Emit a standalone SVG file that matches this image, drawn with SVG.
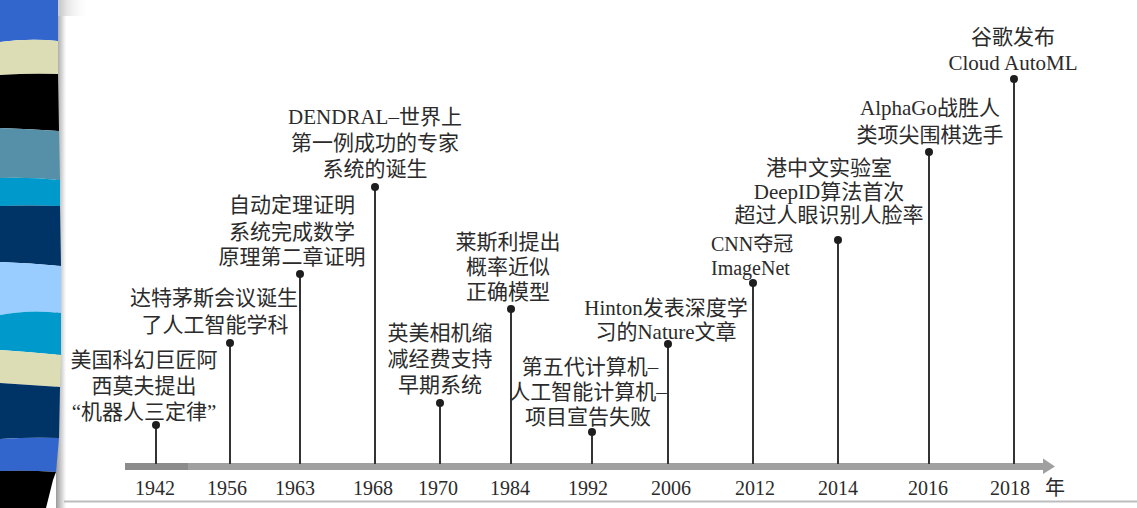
<svg xmlns="http://www.w3.org/2000/svg" width="1137" height="508" viewBox="0 0 1137 508">
<style>
  .lbl{font-family:"Liberation Serif","Noto Sans CJK SC",serif;font-size:21px;fill:#2b2b2b;text-anchor:middle}
  .lft{text-anchor:start;font-size:20px}
  .yr{font-family:"Liberation Serif","Noto Sans CJK SC",serif;font-size:20px;fill:#2b2b2b;text-anchor:middle}
  .tick{stroke:#333;stroke-width:2;fill:none}
  .dot{fill:#1e1e1e}
</style>
<defs>
  <linearGradient id="shadow" x1="0" y1="0" x2="1" y2="0">
    <stop offset="0" stop-color="#9a9a9a"/>
    <stop offset="1" stop-color="#ffffff"/>
  </linearGradient>
  <linearGradient id="topfade" x1="0" y1="0" x2="1" y2="0">
    <stop offset="0" stop-color="#c8c8c8"/>
    <stop offset="1" stop-color="#ffffff" stop-opacity="0"/>
  </linearGradient>
</defs>
<rect width="1137" height="508" fill="#ffffff"/>
<!-- left decorative stripe bar -->
<g id="stripes">
  <rect x="56" y="0" width="10" height="508" fill="url(#shadow)"/>
  <rect x="56" y="0" width="34" height="16" fill="url(#topfade)"/>
  <path d="M0,0 H58 V41 Q30,38 0,42 Z" fill="#3366cc"/>
  <path d="M0,42 Q30,38 58,41 V74 Q30,73 0,75 Z" fill="#ddddb5"/>
  <path d="M0,75 Q30,73 58,74 L59,131 Q30,129 0,128 Z" fill="#000000"/>
  <path d="M0,128 Q30,129 59,131 L60,180 Q30,177 0,178 Z" fill="#5590a8"/>
  <path d="M0,178 Q30,177 60,180 L60,206 Q30,205 0,206 Z" fill="#0099cc"/>
  <path d="M0,206 Q30,205 60,206 L61,266 Q30,263 0,262 Z" fill="#003366"/>
  <path d="M0,262 Q30,263 61,266 L61,313 Q30,309 0,315 Z" fill="#99ccff"/>
  <path d="M0,315 Q30,309 61,313 L61,355 Q30,352 0,350 Z" fill="#0099cc"/>
  <path d="M0,350 Q30,352 61,355 L60,387 Q30,385 0,383 Z" fill="#ddddb5"/>
  <path d="M0,383 Q30,385 60,387 L59,438 Q30,437 0,439 Z" fill="#003366"/>
  <path d="M0,439 Q30,437 59,438 L56,472 Q30,470 0,471 Z" fill="#3366cc"/>
  <path d="M0,471 Q30,470 56,472 L53,480 L46,508 H0 Z" fill="#000000"/>
</g>
<line x1="64" y1="501.5" x2="1137" y2="501.5" stroke="#bdbdbd" stroke-width="2"/>
<!-- axis -->
<g id="axis">
  <rect x="125" y="463" width="921" height="7" fill="#a0a0a0"/>
  <rect x="125" y="463" width="63" height="7" fill="#8c8c8c"/>
  <polygon points="1043,458.5 1055,466.5 1043,474" fill="#a0a0a0"/>
  <text class="yr" x="155" y="495">1942</text>
  <text class="yr" x="227" y="495">1956</text>
  <text class="yr" x="295" y="495">1963</text>
  <text class="yr" x="373" y="495">1968</text>
  <text class="yr" x="438" y="495">1970</text>
  <text class="yr" x="510" y="495">1984</text>
  <text class="yr" x="588" y="495">1992</text>
  <text class="yr" x="671" y="495">2006</text>
  <text class="yr" x="755" y="495">2012</text>
  <text class="yr" x="838" y="495">2014</text>
  <text class="yr" x="928" y="495">2016</text>
  <text class="yr" x="1010" y="495">2018</text>
  <text class="yr" x="1055" y="495">年</text>
</g>
<!-- connectors -->
<g id="connectors">
  <line class="tick" x1="156" y1="425" x2="156" y2="464"/>
  <line class="tick" x1="230" y1="343" x2="230" y2="464"/>
  <line class="tick" x1="300" y1="274" x2="300" y2="464"/>
  <line class="tick" x1="375" y1="187" x2="375" y2="464"/>
  <line class="tick" x1="440" y1="403" x2="440" y2="464"/>
  <line class="tick" x1="511" y1="309" x2="511" y2="464"/>
  <line class="tick" x1="592" y1="432" x2="592" y2="464"/>
  <line class="tick" x1="668" y1="344" x2="668" y2="464"/>
  <line class="tick" x1="753" y1="283" x2="753" y2="464"/>
  <line class="tick" x1="838" y1="240" x2="838" y2="464"/>
  <line class="tick" x1="929" y1="152" x2="929" y2="464"/>
  <line class="tick" x1="1014" y1="79" x2="1014" y2="464"/>
</g>
<g id="n1942">
  <circle class="dot" cx="156" cy="425" r="4"/>
  <text class="lbl" x="144" y="367">美国科幻巨匠阿</text>
  <text class="lbl" x="144" y="393">西莫夫提出</text>
  <text class="lbl" x="144" y="419">“机器人三定律”</text>
</g>
<g id="n1956">
  <circle class="dot" cx="230" cy="343" r="4"/>
  <text class="lbl" x="214" y="305">达特茅斯会议诞生</text>
  <text class="lbl" x="215" y="332">了人工智能学科</text>
</g>
<g id="n1963">
  <circle class="dot" cx="300" cy="274" r="4"/>
  <text class="lbl" x="292" y="212">自动定理证明</text>
  <text class="lbl" x="292" y="239">系统完成数学</text>
  <text class="lbl" x="292" y="264">原理第二章证明</text>
</g>
<g id="n1968">
  <circle class="dot" cx="375" cy="187" r="4"/>
  <text class="lbl" x="375" y="124">DENDRAL–世界上</text>
  <text class="lbl" x="375" y="150">第一例成功的专家</text>
  <text class="lbl" x="375" y="176">系统的诞生</text>
</g>
<g id="n1970">
  <circle class="dot" cx="440" cy="403" r="4"/>
  <text class="lbl" x="440" y="340">英美相机缩</text>
  <text class="lbl" x="440" y="366">减经费支持</text>
  <text class="lbl" x="440" y="392">早期系统</text>
</g>
<g id="n1984">
  <circle class="dot" cx="511" cy="309" r="4"/>
  <text class="lbl" x="508" y="249">莱斯利提出</text>
  <text class="lbl" x="508" y="274">概率近似</text>
  <text class="lbl" x="508" y="299">正确模型</text>
</g>
<g id="n1992">
  <circle class="dot" cx="592" cy="432" r="4"/>
  <text class="lbl" x="590" y="374">第五代计算机–</text>
  <text class="lbl" x="588" y="399">人工智能计算机–</text>
  <text class="lbl" x="588" y="424">项目宣告失败</text>
</g>
<g id="n2006">
  <circle class="dot" cx="668" cy="344" r="4"/>
  <text class="lbl" x="666" y="315">Hinton发表深度学</text>
  <text class="lbl" x="666" y="339">习的Nature文章</text>
</g>
<g id="n2012">
  <circle class="dot" cx="753" cy="283" r="4"/>
  <text class="lbl lft" x="711" y="251">CNN夺冠</text>
  <text class="lbl lft" x="711" y="275">ImageNet</text>
</g>
<g id="n2014">
  <circle class="dot" cx="838" cy="240" r="4"/>
  <text class="lbl" x="829" y="175">港中文实验室</text>
  <text class="lbl" x="829" y="199">DeepID算法首次</text>
  <text class="lbl" x="829" y="222">超过人眼识别人脸率</text>
</g>
<g id="n2016">
  <circle class="dot" cx="929" cy="152" r="4"/>
  <text class="lbl" x="930" y="115">AlphaGo战胜人</text>
  <text class="lbl" x="930" y="142">类项尖围棋选手</text>
</g>
<g id="n2018">
  <circle class="dot" cx="1014" cy="79" r="4"/>
  <text class="lbl" x="1013" y="44">谷歌发布</text>
  <text class="lbl" x="1013" y="70">Cloud AutoML</text>
</g>
</svg>
